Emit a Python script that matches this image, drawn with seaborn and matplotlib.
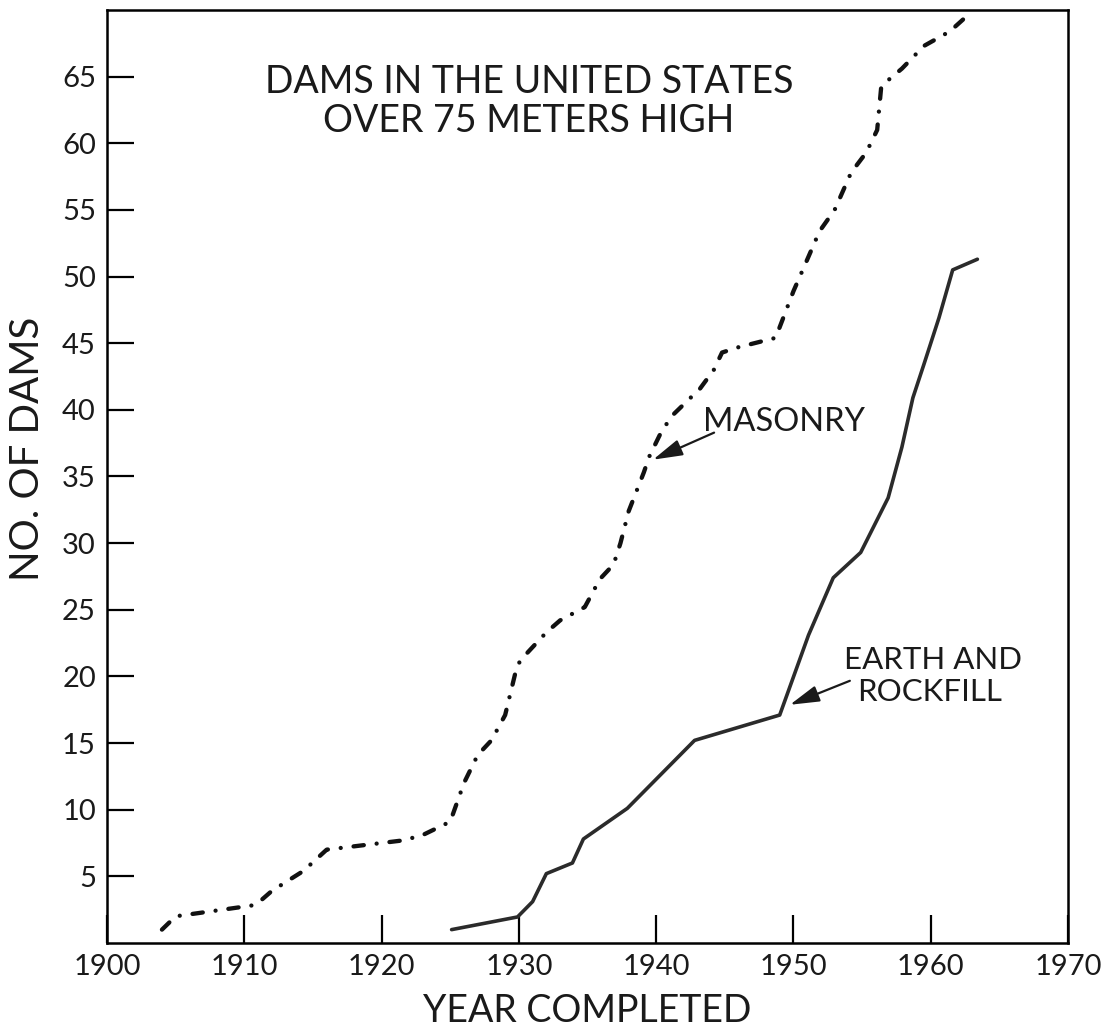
import matplotlib
matplotlib.use("Agg")
import matplotlib.pyplot as plt
import seaborn as sns

# values (year completed, cumulative no. of dams)
masonry_year = [1904.0, 1905.0, 1910.5, 1911.0, 1912.0, 1914.3, 1916.0, 1921.6,
                1923.0, 1925.0, 1926.0, 1927.0, 1928.0, 1929.0, 1929.8, 1930.1,
                1932.0, 1933.0, 1934.8, 1935.9, 1936.9, 1937.4, 1938.0, 1939.1,
                1939.5, 1940.4, 1941.2, 1943.2, 1944.2, 1944.8, 1946.0, 1948.7,
                1950.0, 1951.1, 1951.9, 1953.0, 1954.2, 1955.3, 1956.1, 1956.4,
                1957.9, 1959.5, 1961.4, 1962.8]
masonry_count = [1.0, 2.0, 2.8, 3.0, 3.9, 5.4, 7.0, 7.7,
                 8.1, 9.1, 12.0, 14.1, 15.2, 17.1, 20.5, 21.2,
                 23.3, 24.2, 25.2, 27.3, 28.4, 30.0, 32.4, 35.3,
                 36.5, 38.4, 39.6, 41.6, 43.0, 44.3, 44.7, 45.4,
                 48.9, 51.5, 53.4, 55.0, 57.8, 59.3, 61.0, 64.3,
                 65.6, 67.3, 68.4, 69.7]

earth_year = [1925.1, 1929.9, 1931.0, 1932.0, 1933.9, 1934.7, 1937.9, 1942.8,
              1949.0, 1951.1, 1952.9, 1954.9, 1956.9, 1957.9, 1958.7, 1959.5,
              1960.6, 1961.6, 1963.4]
earth_count = [1.0, 1.95, 3.1, 5.2, 6.0, 7.8, 10.1, 15.2,
               17.1, 23.1, 27.4, 29.3, 33.4, 37.2, 40.9, 43.4,
               46.9, 50.5, 51.3]

x_ticks = [1900, 1910, 1920, 1930, 1940, 1950, 1960, 1970]
y_ticks = [5, 10, 15, 20, 25, 30, 35, 40, 45, 50, 55, 60, 65]

sns.set_style("white")
plt.rcParams['font.family'] = ['Lato', 'DejaVu Sans']

fig = plt.figure(figsize=(11.08, 10.31), dpi=100)
ax = fig.add_axes([0.0966, 0.0854, 0.8673, 0.9049])

sns.lineplot(x=masonry_year, y=masonry_count, ax=ax, sort=False, estimator=None,
             color='#111111', lw=3.1)
sns.lineplot(x=earth_year, y=earth_count, ax=ax, sort=False, estimator=None,
             color='#2b2b2b', lw=2.6)
ax.lines[0].set_dashes((2.4, 3.0, 0.001, 3.0))
ax.lines[0].set_dash_capstyle('round')

ax.set_xlim(1900, 1970)
ax.set_ylim(0, 70)
ax.set_xticks(x_ticks)
ax.set_yticks(y_ticks)
ax.tick_params(axis='both', direction='in', width=1.6, color='black',
               labelsize=21, labelcolor='#1a1a1a', pad=8,
               bottom=True, left=True)
ax.tick_params(axis='x', length=20)
ax.tick_params(axis='y', length=19.5)
for sp in ax.spines.values():
    sp.set_visible(True)
    sp.set_linewidth(1.8)
    sp.set_color('black')

ax.set_xlabel('YEAR COMPLETED', fontsize=27, color='#1a1a1a', va='baseline')
ax.xaxis.set_label_coords(0.5, -0.0847)
ax.set_ylabel('NO. OF DAMS', fontsize=29, color='#1a1a1a', va='baseline')
ax.yaxis.set_label_coords(-0.0708, 0.530)

ax.text(0.439, 0.911, 'DAMS IN THE UNITED STATES', transform=ax.transAxes,
        ha='center', va='baseline', fontsize=27, color='#1a1a1a')
ax.text(0.439, 0.869, 'OVER 75 METERS HIGH', transform=ax.transAxes,
        ha='center', va='baseline', fontsize=27, color='#1a1a1a')

ax.text(1943.4, 38.44, 'MASONRY', ha='left', va='baseline', fontsize=23.5,
        color='#1a1a1a')
ax.text(1960.2, 20.57, 'EARTH AND', ha='center', va='baseline', fontsize=22.5,
        color='#1a1a1a')
ax.text(1959.9, 18.13, 'ROCKFILL', ha='center', va='baseline', fontsize=22.5,
        color='#1a1a1a')

arrow = dict(arrowstyle='-|>,head_length=0.9,head_width=0.25', color='#1a1a1a',
             lw=1.6, shrinkA=0, shrinkB=0, mutation_scale=20)
ax.annotate('', xy=(1939.77, 36.26), xytext=(1944.22, 38.29), arrowprops=arrow)
ax.annotate('', xy=(1949.74, 17.87), xytext=(1954.11, 19.67), arrowprops=arrow)

fig.savefig('out.png', dpi=100, facecolor='white')
